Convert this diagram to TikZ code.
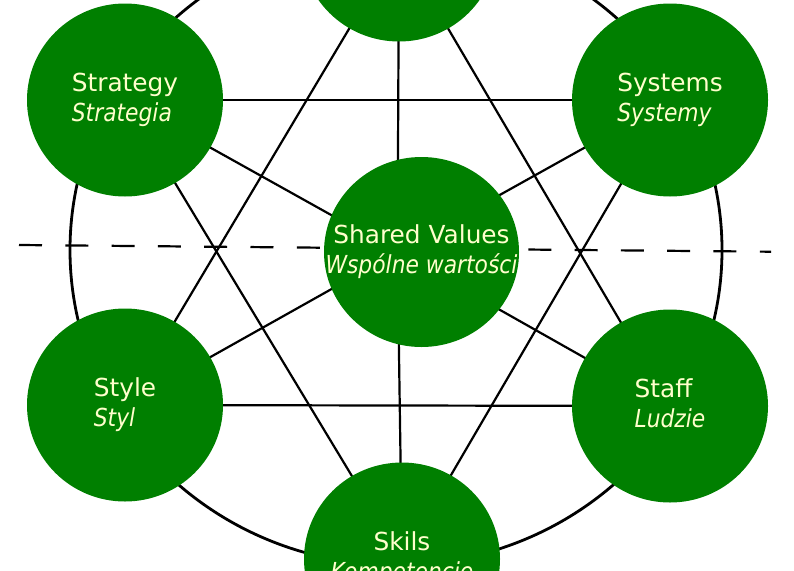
\documentclass[tikz,border=0pt]{standalone}
\usepackage{fontspec}
\setmainfont{DejaVu Sans}[ItalicFeatures={FakeStretch=0.88}]
\usetikzlibrary{shapes.geometric,backgrounds}
\definecolor{sgreen}{HTML}{007F00}
\definecolor{stext}{HTML}{FFFFCC}
\begin{document}
\begin{tikzpicture}[x=1pt,y=-1pt,
  disc/.style={ellipse, fill=sgreen, minimum width=196pt, minimum height=193pt, inner sep=0pt},
  ltext/.style={inner sep=0pt, text=stext, font=\fontsize{24.8}{30}\selectfont, align=left},
  ctext/.style={ltext, align=center},
  link/.style={line width=2.2pt, black},
  ring/.style={line width=2.8pt, black},
  divider/.style={line width=2.2pt, black, dash pattern=on 23pt off 23.3pt}]
\useasboundingbox (0,0) rectangle (794,570);
\node[disc] (structure) at (399,-55) {};
\node[disc] (strategy) at (125,100) {};
\node[disc] (systems) at (670,100) {};
\node[disc, minimum width=195pt, minimum height=190pt] (shared) at (421.5,252) {};
\node[disc] (style) at (125,405) {};
\node[disc] (staff) at (670,406) {};
\node[disc] (skils) at (402,559) {};
\node[ltext] (strategytxt) at (strategy.center) {Strategy\strut\\\textit{Strategia}\strut};
\node[ltext] (systemstxt) at (systems.center) {Systems\strut\\\textit{Systemy}\strut};
\node[ctext] (sharedtxt) at (shared.center) {Shared Values\strut\\\textit{Wspólne wartości}\strut};
\node[ltext] (styletxt) at (style.center) {Style\strut\\\textit{Styl}\strut};
\node[ltext] (stafftxt) at (staff.center) {Staff\strut\\\textit{Ludzie}\strut};
\node[ctext] (skilstxt) at (skils.center) {Skils\strut\\\textit{Kompetencje}\strut};
\coordinate (hub) at (397.5,252);
\coordinate (dl) at (19,245);
\coordinate (dr) at (771,251.7);
\begin{scope}[on background layer]
  \draw[ring] (396,250) ellipse [x radius=326, y radius=315];
  \draw[divider] (dl) -- (dr);
  \draw[link] (strategy.center) -- (systems.center);
  \draw[link] (style.center) -- (staff.center);
  \draw[link] (structure.center) -- (style.center);
  \draw[link] (structure.center) -- (staff.center);
  \draw[link] (strategy.center) -- (skils.center);
  \draw[link] (systems.center) -- (skils.center);
  \draw[link] (structure.center) -- (hub);
  \draw[link] (skils.center) -- (hub);
  \draw[link] (strategy.center) -- (hub);
  \draw[link] (systems.center) -- (hub);
  \draw[link] (style.center) -- (hub);
  \draw[link] (staff.center) -- (hub);
\end{scope}
\end{tikzpicture}
\end{document}
